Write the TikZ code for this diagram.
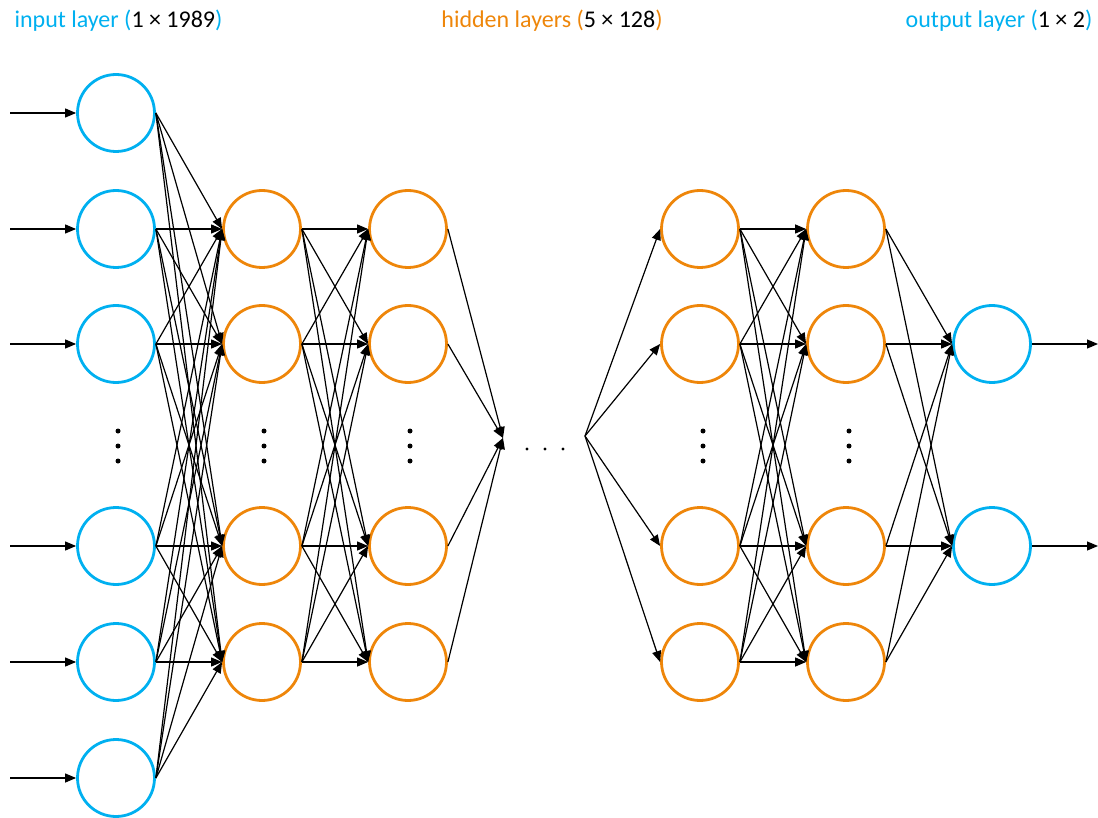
\documentclass[tikz,border=0pt]{standalone}
\usepackage{fontspec}
\setmainfont{Carlito}
\usetikzlibrary{arrows.meta}
\definecolor{layerblue}{RGB}{0,176,240}
\definecolor{layerorange}{RGB}{238,134,10}
\begin{document}
\begin{tikzpicture}[x=1pt,y=-1pt,
  neuron/.style={circle, line width=2.8pt, minimum size=77pt, inner sep=0pt},
  innode/.style={neuron, draw=layerblue},
  hidnode/.style={neuron, draw=layerorange},
  link/.style={line width=1.2pt, -{Triangle[length=11pt,width=9pt]}},
  vdot/.style={circle, fill=black, inner sep=0pt, minimum size=5pt},
  hdot/.style={circle, fill=black, inner sep=0pt, minimum size=3.2pt},
  caption/.style={font=\fontsize{24pt}{28pt}\selectfont, inner sep=0pt, anchor=center}
]
\useasboundingbox (0,0) rectangle (1098,818);

% layer titles
\node[caption] (tin) at (118.5,21) {\textcolor{layerblue}{input layer (}1 × 1989\textcolor{layerblue}{)}};
\node[caption] (thid) at (552,21) {\textcolor{layerorange}{hidden layers (}5 × 128\textcolor{layerorange}{)}};
\node[caption] (tout) at (999,21) {\textcolor{layerblue}{output layer (}1 × 2\textcolor{layerblue}{)}};

% input layer
\foreach \k/\y in {1/113,2/229,3/344,4/546,5/662,6/778}
  \node[innode] (i\k) at (116,\y) {};
% hidden layers
\foreach \L/\x in {1/262,2/408,3/700,4/846}
  \foreach \k/\y in {1/229,2/344,3/546,4/662}
    \node[hidnode] (h\L-\k) at (\x,\y) {};
% output layer
\node[innode] (o1) at (992,344) {};
\node[innode] (o2) at (992,546) {};

% vertical ellipses inside the layers
\foreach \x in {118,264,410,703,849}
  \foreach \y in {431,446,461}
    \node[vdot] at (\x,\y) {};
% horizontal ellipsis between the hidden layers
\foreach \x in {527,545,563}
  \node[hdot] at (\x,449) {};

% input and output signals
\foreach \k/\y in {1/113,2/229,3/344,4/546,5/662,6/778}
  \coordinate (s\k) at (10,\y);
\foreach \k in {1,...,6}
  \draw[link] (s\k) -- (i\k.west);
\coordinate (r1) at (1098,344);
\coordinate (r2) at (1098,546);
\draw[link] (o1.east) -- (r1);
\draw[link] (o2.east) -- (r2);

% input -> hidden 1
\foreach \a in {1,...,6}
  \foreach \b in {1,...,4}
    \draw[link] (i\a.east) -- (h1-\b.west);
% hidden 1 -> hidden 2
\foreach \a in {1,...,4}
  \foreach \b in {1,...,4}
    \draw[link] (h1-\a.east) -- (h2-\b.west);
% hidden 2 -> elided layers -> hidden 3
\coordinate (m1) at (503,438);
\coordinate (m2) at (585,436);
\foreach \a in {1,...,4}
  \draw[link] (h2-\a.east) -- (m1);
\foreach \b in {1,...,4}
  \draw[link] (m2) -- (h3-\b.west);
% hidden 3 -> hidden 4
\foreach \a in {1,...,4}
  \foreach \b in {1,...,4}
    \draw[link] (h3-\a.east) -- (h4-\b.west);
% hidden 4 -> output
\foreach \a in {1,...,4}
  \foreach \b in {1,2}
    \draw[link] (h4-\a.east) -- (o\b.west);
\end{tikzpicture}
\end{document}
